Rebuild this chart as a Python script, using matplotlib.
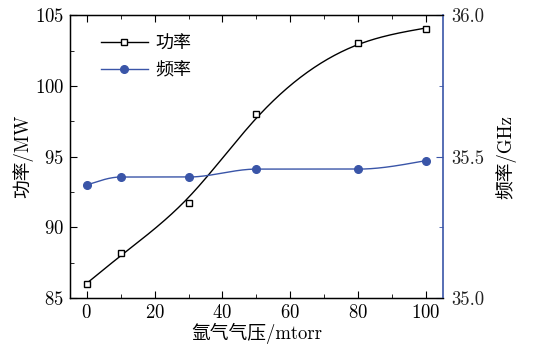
import numpy as np
import matplotlib
matplotlib.use('Agg')
from matplotlib import pyplot as plt
from matplotlib.ticker import MultipleLocator, FormatStrFormatter

plt.rcParams['font.family'] = ['cmr10', 'Noto Sans CJK SC', 'DejaVu Serif']
plt.rcParams['axes.formatter.use_mathtext'] = True
plt.rcParams['mathtext.fontset'] = 'cm'

pressure = [0, 10, 30, 50, 80, 100]
power = [86.0, 88.2, 91.7, 98.0, 103.0, 104.0]
freq = [35.40, 35.428, 35.428, 35.456, 35.456, 35.486]

blue = '#3a55a8'


def smooth(x, y, lam, step=0.5):
	# penalised least squares (smoothing-spline like) guide line
	grid = np.arange(x[0], x[-1] + step / 2, step)
	n = len(grid)
	W = np.zeros(n)
	z = np.zeros(n)
	for xi, yi in zip(x, y):
		k = int(round((xi - x[0]) / step))
		W[k] = 1
		z[k] = yi
	D = np.diff(np.eye(n), 2, axis=0)
	f = np.linalg.solve(np.diag(W) + lam * D.T @ D, W * z)
	return grid, f


def pchip(x, y, xs):
	# monotone cubic (Fritsch-Carlson)
	x = np.asarray(x, float)
	y = np.asarray(y, float)
	h = np.diff(x)
	d = np.diff(y) / h
	n = len(x)
	m = np.zeros(n)
	for k in range(1, n - 1):
		if d[k - 1] * d[k] <= 0:
			m[k] = 0
		else:
			w1 = 2 * h[k] + h[k - 1]
			w2 = h[k] + 2 * h[k - 1]
			m[k] = (w1 + w2) / (w1 / d[k - 1] + w2 / d[k])
	m[0] = ((2 * h[0] + h[1]) * d[0] - h[0] * d[1]) / (h[0] + h[1])
	if np.sign(m[0]) != np.sign(d[0]):
		m[0] = 0
	m[-1] = ((2 * h[-1] + h[-2]) * d[-1] - h[-1] * d[-2]) / (h[-1] + h[-2])
	if np.sign(m[-1]) != np.sign(d[-1]):
		m[-1] = 0
	out = []
	for t in xs:
		i = min(np.searchsorted(x, t, side='right') - 1, n - 2)
		s = (t - x[i]) / h[i]
		h00 = 2 * s ** 3 - 3 * s ** 2 + 1
		h10 = s ** 3 - 2 * s ** 2 + s
		h01 = -2 * s ** 3 + 3 * s ** 2
		h11 = s ** 3 - s ** 2
		out.append(h00 * y[i] + h10 * h[i] * m[i] + h01 * y[i + 1] + h11 * h[i] * m[i + 1])
	return np.array(out)


xp, power_fit = smooth(pressure, power, 3000)
xs = np.linspace(0, 100, 400)
freq_fit = pchip(pressure, freq, xs)

fs = 13.5

fig = plt.figure(figsize=(5.45, 3.52), dpi=100)
ax = fig.add_axes([0.128, 0.153, 0.685, 0.804])
ax2 = ax.twinx()

ax.plot(xp, power_fit, color='black', lw=1.0)
ax.plot(pressure, power, 's', mfc='white', mec='black', ms=5, mew=1.0)
ax2.plot(xs, freq_fit, color=blue, lw=1.0)
ax2.plot(pressure, freq, 'o', color=blue, ms=5.5)

# legend proxies
l1, = ax.plot([], [], '-s', color='black', mfc='white', mec='black', ms=5, mew=1.0, lw=1.0)
l2, = ax.plot([], [], '-o', color=blue, ms=5.5, lw=1.0)
ax.legend([l1, l2], ['功率', '频率'], loc='upper left', frameon=False,
          fontsize=13, handlelength=2.6, handletextpad=0.4,
          bbox_to_anchor=(0.04, 0.985), labelspacing=0.55)

ax.set_xlim(-5, 105)
ax.set_ylim(85, 105)
ax2.set_ylim(35.0, 36.0)

ax.xaxis.set_major_locator(MultipleLocator(20))
ax.xaxis.set_minor_locator(MultipleLocator(10))
ax.yaxis.set_major_locator(MultipleLocator(5))
ax.yaxis.set_minor_locator(MultipleLocator(2.5))
ax2.yaxis.set_major_locator(MultipleLocator(0.5))
ax2.yaxis.set_minor_locator(MultipleLocator(0.25))
ax2.yaxis.set_major_formatter(FormatStrFormatter('%.1f'))

ax.tick_params(axis='x', which='both', direction='in', top=True, labelsize=fs, pad=4)
ax.tick_params(axis='y', which='both', direction='in', right=False, labelsize=fs, pad=4)
ax.tick_params(which='major', length=5)
ax.tick_params(which='minor', length=3)
ax2.tick_params(axis='y', which='both', direction='in', colors=blue, labelcolor='#222222',
                labelsize=fs, pad=6)
ax2.tick_params(which='major', length=5)
ax2.tick_params(which='minor', length=3)
ax2.spines['right'].set_color(blue)
ax2.spines['right'].set_linewidth(1.2)
for s in ['left', 'top', 'bottom']:
	ax.spines[s].set_linewidth(1.0)
ax.spines['right'].set_visible(False)

ax.set_xlabel('氩气气压/mtorr', fontsize=fs, labelpad=1)
ax.set_ylabel('功率/MW', fontsize=fs, labelpad=1)
ax2.set_ylabel('频率/GHz', fontsize=fs, labelpad=8)

plt.savefig('out.png', dpi=100)
